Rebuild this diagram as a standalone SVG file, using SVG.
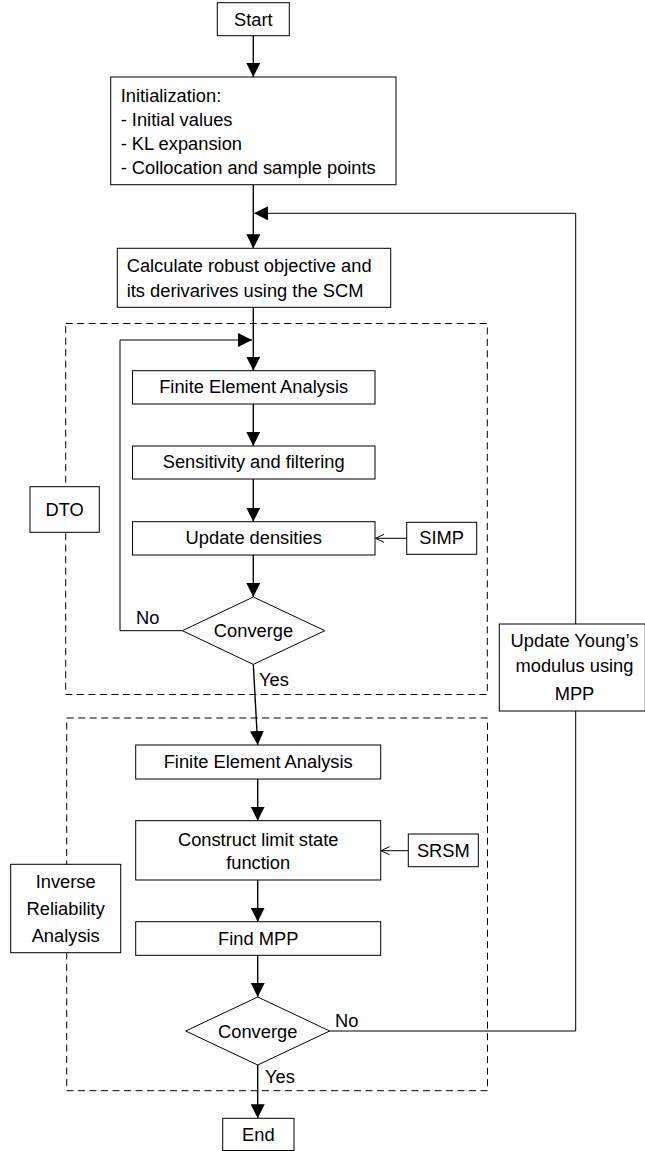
<svg xmlns="http://www.w3.org/2000/svg" width="645" height="1151" viewBox="0 0 645 1151">
<style>
.box{fill:#fff;stroke:#000;stroke-width:1}
.dash{fill:none;stroke:#000;stroke-width:1;stroke-dasharray:7,4.5}
.ln{fill:none;stroke:#000;stroke-width:1.4}
.thin{fill:none;stroke:#000;stroke-width:1}
.t{font-family:"Liberation Sans",Arial,sans-serif;font-size:18.3px;fill:#000}
.c{text-anchor:middle}
</style>
<defs>
<marker id="arr" markerUnits="userSpaceOnUse" markerWidth="14" markerHeight="14" viewBox="0 0 14 14" refX="14" refY="7" orient="auto">
<path d="M0,0 L14,7 L0,14 Z" fill="#000"/>
</marker>
<marker id="open" markerUnits="userSpaceOnUse" markerWidth="10" markerHeight="10" viewBox="0 0 10 10" refX="9.5" refY="5" orient="auto">
<path d="M1,1 L9.5,5 L1,9" fill="none" stroke="#000" stroke-width="1"/>
</marker>
</defs>
<rect width="645" height="1151" fill="#fff"/>

<g id="group-dto-frame"><rect class="dash" x="65.7" y="323.5" width="421.6" height="371"/></g>
<g id="group-ira-frame"><rect class="dash" x="66.7" y="718" width="420.8" height="372.7"/></g>

<g id="connectors">
<line class="ln" x1="253.3" y1="35.7" x2="253.3" y2="77" marker-end="url(#arr)"/>
<line class="ln" x1="253.3" y1="184.7" x2="253.3" y2="248.3" marker-end="url(#arr)"/>
<polyline class="thin" points="575.7,624 575.7,213.3 254,213.3" marker-end="url(#arr)"/>
<line class="ln" x1="253.3" y1="307.3" x2="253.3" y2="370.7" marker-end="url(#arr)"/>
<polyline class="thin" points="182.3,630.7 120,630.7 120,340 252,340" marker-end="url(#arr)"/>
<line class="ln" x1="253.3" y1="404" x2="253.3" y2="446" marker-end="url(#arr)"/>
<line class="ln" x1="253.3" y1="479" x2="253.3" y2="521.7" marker-end="url(#arr)"/>
<line class="thin" x1="406.7" y1="538.3" x2="375.5" y2="538.3" marker-end="url(#open)"/>
<line class="ln" x1="253.3" y1="555" x2="253.3" y2="597" marker-end="url(#arr)"/>
<line class="ln" x1="253.3" y1="664.4" x2="257.7" y2="745" marker-end="url(#arr)"/>
<line class="ln" x1="257.7" y1="779" x2="257.7" y2="820.7" marker-end="url(#arr)"/>
<line class="thin" x1="408.3" y1="850.7" x2="381" y2="850.7" marker-end="url(#open)"/>
<line class="ln" x1="257.7" y1="880" x2="257.7" y2="921.7" marker-end="url(#arr)"/>
<line class="ln" x1="257.7" y1="955.3" x2="257.7" y2="997" marker-end="url(#arr)"/>
<polyline class="thin" points="329.7,1031 575.7,1031 575.7,711"/>
<line class="ln" x1="257.7" y1="1065" x2="257.7" y2="1118.3" marker-end="url(#arr)"/>
</g>

<g id="start"><rect class="box" x="217.3" y="2.7" width="72" height="33"/><text class="t c" x="253.3" y="25.5">Start</text></g>

<g id="init"><rect class="box" x="110.7" y="77" width="285.3" height="107.7"/>
<text class="t" x="120.7" y="101.7">Initialization:</text>
<text class="t" x="120.7" y="125.8">- Initial values</text>
<text class="t" x="120.7" y="150">- KL expansion</text>
<text class="t" x="120.7" y="174.2">- Collocation and sample points</text></g>

<g id="calc"><rect class="box" x="117.3" y="248.3" width="273.4" height="59"/>
<text class="t" x="126.7" y="271.7">Calculate robust objective and</text>
<text class="t" x="126.7" y="296.7">its derivarives using the SCM</text></g>

<g id="fea1"><rect class="box" x="132.5" y="370.7" width="242.5" height="33.3"/><text class="t c" x="253.7" y="393">Finite Element Analysis</text></g>
<g id="sens"><rect class="box" x="132.5" y="446" width="242.5" height="33"/><text class="t c" x="253.7" y="468.3">Sensitivity and filtering</text></g>
<g id="update-dens"><rect class="box" x="132.5" y="521.7" width="242.5" height="33.3"/><text class="t c" x="253.7" y="544">Update densities</text></g>
<g id="simp"><rect class="box" x="406.7" y="522.3" width="70" height="32"/><text class="t c" x="441.7" y="544.3">SIMP</text></g>
<g id="conv1"><polygon class="box" points="253.3,597 324.8,630.7 253.3,664.4 182.3,630.7"/><text class="t c" x="253.5" y="637">Converge</text></g>
<text class="t" x="136" y="624.3">No</text>
<text class="t" x="259" y="685.7">Yes</text>

<g id="dto"><rect class="box" x="30" y="486.7" width="69.3" height="45.6"/><text class="t c" x="64.7" y="516">DTO</text></g>

<g id="fea2"><rect class="box" x="135.7" y="745" width="245" height="34"/><text class="t c" x="258.2" y="767.5">Finite Element Analysis</text></g>
<g id="construct"><rect class="box" x="135.7" y="820.7" width="245" height="59.3"/>
<text class="t c" x="258.2" y="845.7">Construct limit state</text>
<text class="t c" x="258.2" y="869.3">function</text></g>
<g id="srsm"><rect class="box" x="408.3" y="834" width="70" height="32.7"/><text class="t c" x="443.3" y="857">SRSM</text></g>
<g id="findmpp"><rect class="box" x="135.7" y="921.7" width="245" height="33.6"/><text class="t c" x="258.2" y="945">Find MPP</text></g>
<g id="conv2"><polygon class="box" points="257.7,997 329.7,1031 257.7,1065 185.7,1031"/><text class="t c" x="257.7" y="1037.5">Converge</text></g>
<text class="t" x="335" y="1026.7">No</text>
<text class="t" x="265" y="1082.7">Yes</text>

<g id="ira"><rect class="box" x="10.7" y="864.3" width="110" height="88.4"/>
<text class="t c" x="65.7" y="888.3">Inverse</text>
<text class="t c" x="65.7" y="915">Reliability</text>
<text class="t c" x="65.7" y="941.7">Analysis</text></g>

<g id="young"><rect class="box" x="499.3" y="624" width="146" height="87"/>
<text class="t c" x="574.5" y="646.7">Update Young’s</text>
<text class="t c" x="574.5" y="671.7">modulus using</text>
<text class="t c" x="574.5" y="700">MPP</text></g>

<g id="end"><rect class="box" x="222.7" y="1118.3" width="71.3" height="32.2"/><text class="t c" x="258.3" y="1140.7">End</text></g>
</svg>
